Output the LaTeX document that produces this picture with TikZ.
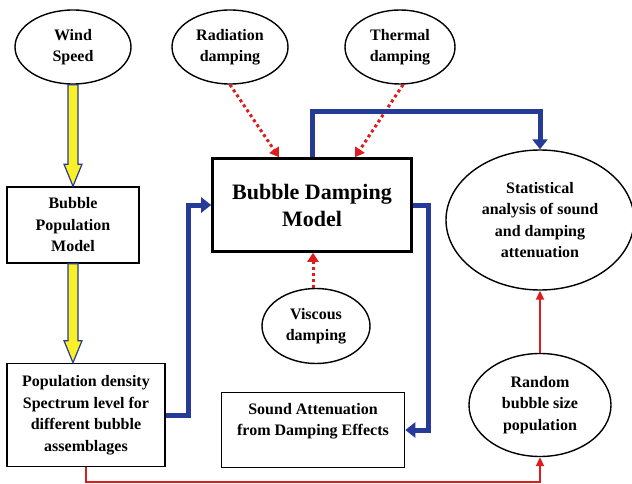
\documentclass[tikz,border=0pt]{standalone}
\usepackage{fontspec}
\setmainfont{Liberation Serif}
\usetikzlibrary{shapes.geometric,arrows.meta,calc}

\definecolor{flowblue}{RGB}{38,58,152}
\definecolor{dampred}{RGB}{222,28,28}
\definecolor{windyellow}{RGB}{250,240,40}

\begin{document}
\begin{tikzpicture}[x=1pt,y=-1pt,
  every node/.style={inner sep=0pt,align=center,font=\bfseries\fontsize{16}{21.5}\selectfont},
  oval/.style={ellipse,draw=black,line width=1.4pt},
  block/.style={rectangle,draw=black,line width=1.6pt},
  dotarrow/.style={draw=dampred,line width=3pt,dash pattern=on 3pt off 3pt,-{Triangle[width=11pt,length=9pt]}},
  bluearrow/.style={draw=flowblue,line width=5pt,line join=miter,-{Triangle[width=15pt,length=10pt]}},
  redarrow/.style={draw=dampred,line width=2pt,-{Triangle[width=8pt,length=9pt]}},
  yellowarrow/.style={fill=windyellow,draw=flowblue,line width=1.2pt,to path={
    let \p1=(\tikztostart), \p2=(\tikztotarget) in
    (\x1-5pt,\y1) -- (\x1-5pt,\y2+22pt) -- (\x1-9pt,\y2+22pt) -- (\x1,\y2)
    -- (\x1+9pt,\y2+22pt) -- (\x1+5pt,\y2+22pt) -- (\x1+5pt,\y1) -- cycle}}]
\useasboundingbox (0,0) rectangle (632,484);

\node (wind) at (73,47) [oval,minimum width=116,minimum height=74] {Wind\\Speed};
\node (raddamp) at (230,47) [oval,minimum width=116,minimum height=74] {Radiation\\damping};
\node (thermdamp) at (400,47) [oval,minimum width=110,minimum height=74] {Thermal\\damping};
\node (bpm) at (73,225) [block,minimum width=132,minimum height=76] {Bubble\\Population\\Model};
\node (bdm) at (312,205) [block,line width=2.6pt,minimum width=199,minimum height=93,
  font=\bfseries\fontsize{22}{27}\selectfont] {Bubble Damping\\Model};
\node (visc) at (316,326) [oval,minimum width=108,minimum height=75] {Viscous\\damping};
\node (popdens) at (86,415) [block,minimum width=158,minimum height=103]
  {Population density\\Spectrum level for\\different bubble\\assemblages};
\node (soundatt) at (313,430) [block,minimum width=183,minimum height=75]
  {Sound Attenuation\\from Damping Effects\\\mbox{}};
\node (stat) at (540,220) [oval,minimum width=188,minimum height=140]
  {Statistical\\analysis of sound\\and damping\\attenuation};
\node (random) at (540,405) [oval,minimum width=142,minimum height=103]
  {Random\\bubble size\\population};

% wind to population
\draw[yellowarrow] (wind.south) to (bpm.north);
\draw[yellowarrow] (bpm.south) to (bpm.south |- popdens.north);

% damping mechanisms
\coordinate (vtop) at ($(visc.north)+(-3,0)$);
\draw[dotarrow] (raddamp.south) -- ($(bdm.north)+(-33,0)$);
\draw[dotarrow] ($(thermdamp.south)+(3,0)$) -- ($(bdm.north)+(43,0)$);
\draw[dotarrow] (vtop) -- (vtop |- bdm.south);

% model flow
\draw[bluearrow] (popdens.east) -- ++(23,0) |- (bdm.west);
\draw[bluearrow] (bdm.north) -- ++(0,-46) -| (stat.north);
\draw[bluearrow] (bdm.east) -- ++(16,0) |- (soundatt.east);

\draw[redarrow] (popdens.south) -- ++(0,15) -| (random.south);
\draw[redarrow] (random.north) -- (stat.south);
\end{tikzpicture}
\end{document}
